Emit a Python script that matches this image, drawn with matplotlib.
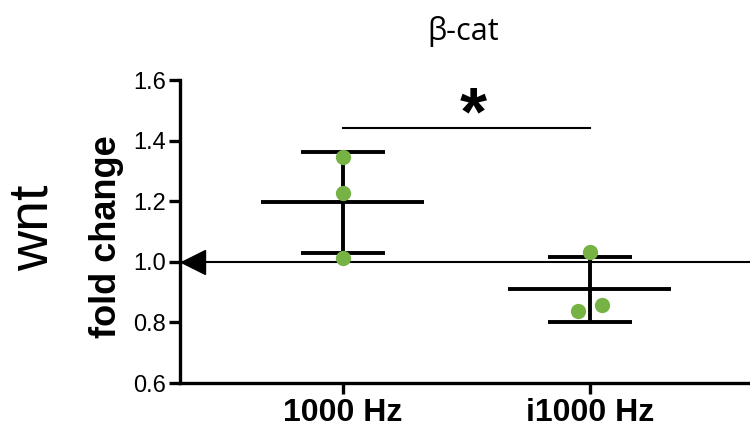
import numpy as np
import matplotlib
matplotlib.use("Agg")
import matplotlib.pyplot as plt
import matplotlib.transforms as mtransforms

# ---- data ----
categories = ["1000 Hz", "i1000 Hz"]
points_1000 = [1.347, 1.227, 1.013]
points_i1000 = [1.032, 0.857, 0.838]
jitter_i1000 = [0.0, 0.047, -0.049]
means = [1.196, 0.909]
sds = [0.168, 0.107]
yticks = [0.6, 0.8, 1.0, 1.2, 1.4, 1.6]
sig_level = 1.443

GREEN = "#77b244"
FONT = "Liberation Sans"

fig = plt.figure(figsize=(7.5, 4.34), dpi=100)
ax = fig.add_axes([0.24, 0.1175, 0.76, 0.698])

x = np.arange(len(categories))

# error bars
ax.errorbar(x, means, yerr=sds, fmt="none", ecolor="black", elinewidth=2.8,
            capsize=30, capthick=2.8, zorder=2)
# mean lines
ax.hlines(means, x - 0.33, x + 0.33, colors="black", linewidth=2.8, zorder=2)

# reference line with arrow at left
ax.axhline(1.0, color="black", linewidth=1.5, zorder=3)
trans = mtransforms.blended_transform_factory(ax.transAxes, ax.transData) + \
    mtransforms.ScaledTranslation(12.5 / 100, 0, fig.dpi_scale_trans)
ax.plot([0], [1.0], marker="<", markersize=17.5, color="black",
        transform=trans, clip_on=False, zorder=4)

# points
ax.plot(np.full(len(points_1000), x[0]), points_1000, "o", color=GREEN,
        markersize=11, markeredgewidth=0, zorder=5)
ax.plot(x[1] + np.array(jitter_i1000), points_i1000, "o", color=GREEN,
        markersize=11, markeredgewidth=0, zorder=5)

# significance
ax.plot([x[0], x[1]], [sig_level, sig_level], color="black", linewidth=1.5)
ax.text(0.526, 1.421, "*", ha="center", va="baseline",
        fontsize=50, fontweight="bold", family=FONT)

ax.set_xlim(-0.66, 1.648)
ax.set_ylim(0.6, 1.6)
ax.set_yticks(yticks)
ax.set_yticklabels([f"{v:.1f}" for v in yticks], fontsize=17, family=FONT)
ax.set_xticks(x)
ax.set_xticklabels(categories, fontsize=23, fontweight="bold", family=FONT)

for s in ["top", "right"]:
    ax.spines[s].set_visible(False)
for s in ["left", "bottom"]:
    ax.spines[s].set_linewidth(2.4)
ax.tick_params(axis="both", width=2.4, length=8, color="black")
ax.tick_params(axis="y", pad=2)
ax.tick_params(axis="x", pad=3)

fig.text(0.142, 0.454, "fold change", rotation=90, ha="center", va="center",
         fontsize=26, fontweight="bold", family=FONT)
fig.text(0.045, 0.475, "wnt", rotation=90, ha="center", va="center",
         fontsize=40, family=FONT)
fig.text(0.617, 0.928, "β-cat", ha="center", va="center", fontsize=22,
         family=["Open Sans", "DejaVu Sans"])

fig.savefig("out.png", dpi=100)
